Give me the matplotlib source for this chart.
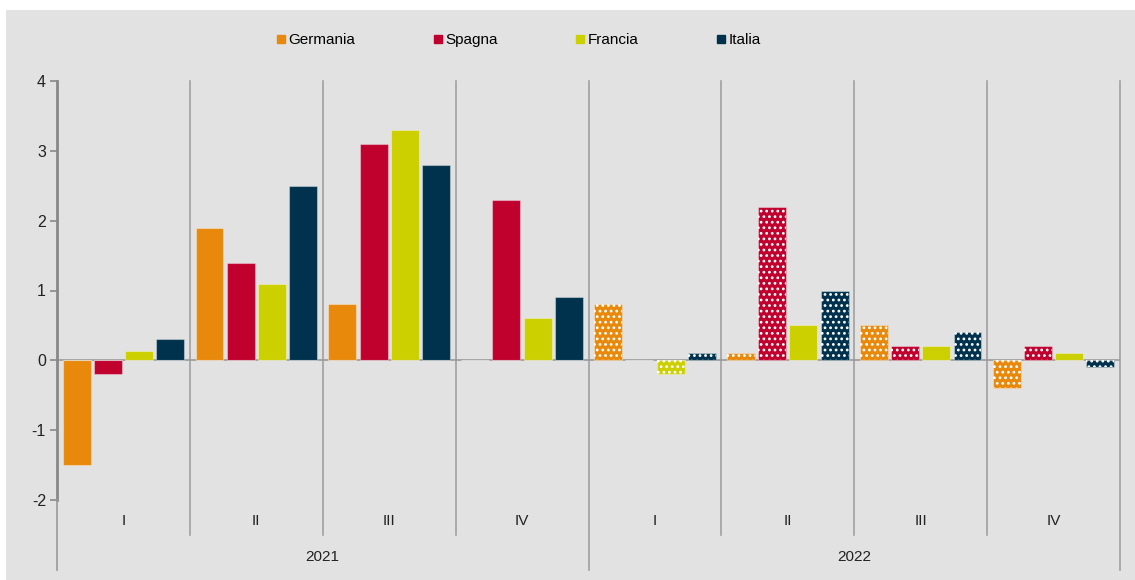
import matplotlib
matplotlib.use("Agg")
import matplotlib.pyplot as plt
from matplotlib.lines import Line2D
from matplotlib.patches import Rectangle
import numpy as np

plt.rcParams['font.family'] = ['Liberation Sans', 'DejaVu Sans']
plt.rcParams['hatch.linewidth'] = 1.2
plt.rcParams['axes.unicode_minus'] = False

series = ["Germania", "Spagna", "Francia", "Italia"]
colors = ["#E8890C", "#C0002D", "#CCD000", "#00324D"]
quarters = ["I", "II", "III", "IV", "I", "II", "III", "IV"]
years = ["2021", "2022"]

germania = [-1.5, 1.9, 0.8, np.nan, 0.8, 0.1, 0.5, -0.4]
spagna   = [-0.2, 1.4, 3.1, 2.3, np.nan, 2.2, 0.2, 0.2]
francia  = [0.14, 1.1, 3.3, 0.6, -0.2, 0.5, 0.2, 0.1]
italia   = [0.3, 2.5, 2.8, 0.9, 0.1, 1.0, 0.4, -0.1]

# forecast (dotted) flags per series
germania_fc = [False, False, False, False, True, True, True, True]
spagna_fc   = [False, False, False, False, True, True, True, True]
francia_fc  = [False, False, False, False, True, False, False, False]
italia_fc   = [False, False, False, False, True, True, True, True]

values = [germania, spagna, francia, italia]
flags = [germania_fc, spagna_fc, francia_fc, italia_fc]

bg = "#E2E2E2"
fig = plt.figure(figsize=(11.35, 5.8), dpi=100, facecolor="white")
fig.patches.append(Rectangle((6/1135, 0), 1 - 6/1135, 1 - 10/580,
                             transform=fig.transFigure, facecolor=bg,
                             edgecolor="none", zorder=-10))
ax = fig.add_axes([57/1135, 80/580, (1120-57)/1135, (499-80)/580])
ax.set_facecolor(bg)

n = len(quarters)
x = np.arange(n)
pitch = 0.235
width = 0.21
for k, (vals, fl, c) in enumerate(zip(values, flags, colors)):
    pos = x + (k - 1.5) * pitch
    v = np.array(vals, dtype=float)
    solid = np.where(np.array(fl), np.nan, v)
    dotted = np.where(np.array(fl), v, np.nan)
    ax.bar(pos, np.nan_to_num(solid), width, color=c,
           edgecolor=(1, 1, 1, 0.35), linewidth=0.8, zorder=3)
    ax.bar(pos, np.nan_to_num(dotted), width, color=c,
           edgecolor=(1, 1, 1, 0.35), linewidth=0.8, zorder=3)
    ax.bar(pos, np.nan_to_num(dotted), width, fill=False,
           edgecolor="white", linewidth=0, hatch="...", zorder=4)

ax.set_xlim(-0.5, n - 0.5)
ax.set_ylim(-2, 4)
ax.set_yticks(range(-2, 5))
ax.tick_params(axis="y", direction="out", length=5, width=1.2, color="#888888",
               labelsize=11.5, labelcolor="#222222", pad=3)
ax.set_xticks([])
for s in ["top", "right", "bottom", "left"]:
    ax.spines[s].set_visible(False)

trans = ax.get_xaxis_transform()
sep_col = "#A0A0A0"
ax.axhline(0, color="#999999", lw=1.2, zorder=2)
# left axis line: stronger inside the value range, thinner below
ax.plot([-0.5, -0.5], [1, 0], transform=trans, color="#888888", lw=2.0,
        clip_on=False, zorder=5)
ax.plot([-0.5, -0.5], [0, -0.167], transform=trans, color="#999999", lw=1.2,
        clip_on=False, zorder=5)
for i in range(1, n + 1):
    xv = i - 0.5
    if i == n // 2 or i == n:
        y0 = -0.167
    else:
        y0 = -0.0835
    ax.plot([xv, xv], [1, y0], transform=trans, color=sep_col, lw=1.2,
            clip_on=False, zorder=1)

for i, q in enumerate(quarters):
    ax.text(i, -0.05, q, transform=trans, ha="center", va="center",
            fontsize=11, color="#222222")
for j, yr in enumerate(years):
    ax.text(j * 4 + 1.5, -0.136, yr, transform=trans, ha="center", va="center",
            fontsize=11, color="#222222")

handles = [Line2D([], [], marker="s", linestyle="none", markersize=6,
                  markerfacecolor=c, markeredgecolor=c) for c in colors]
fig.legend(handles, series, loc="center", bbox_to_anchor=(518/1135, 1 - 40/580),
           ncol=4, frameon=False, fontsize=11, handletextpad=0.1,
           columnspacing=5.0, handlelength=0.8)

fig.savefig("out.png", dpi=100, facecolor=fig.get_facecolor())
